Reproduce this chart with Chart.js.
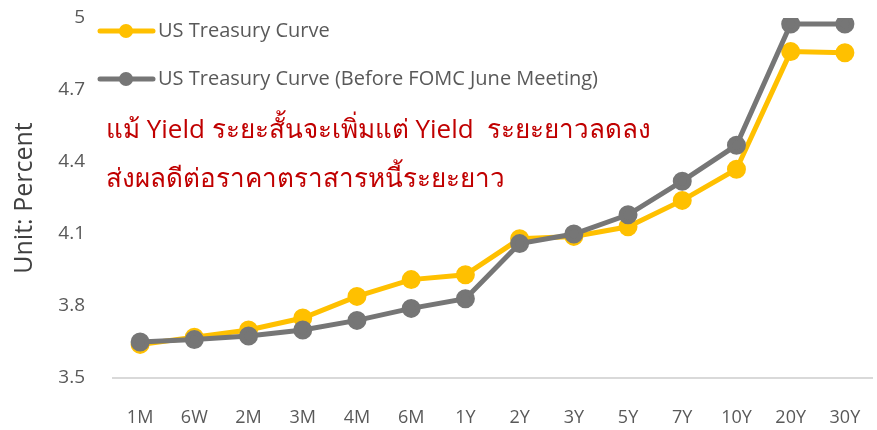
<!DOCTYPE html>
<html>
<head>
<meta charset="utf-8">
<script src="https://cdn.jsdelivr.net/npm/chart.js@4"></script>
<style>
  html, body { margin: 0; padding: 0; background: #fff; }
  #wrap { width: 877px; height: 430px; position: relative; }
</style>
</head>
<body>
<div id="wrap"><canvas id="chart" width="877" height="430"></canvas></div>
<script>
// data
var tenors = ['1M', '6W', '2M', '3M', '4M', '6M', '1Y', '2Y', '3Y', '5Y', '7Y', '10Y', '20Y', '30Y'];
var curveNow = [3.64, 3.67, 3.70, 3.75, 3.84, 3.91, 3.93, 4.08, 4.09, 4.13, 4.24, 4.37, 4.86, 4.855];
var curveBefore = [3.65, 3.66, 3.675, 3.70, 3.74, 3.79, 3.83, 4.06, 4.10, 4.18, 4.32, 4.47, 4.975, 4.975];
var seriesNames = ['US Treasury Curve', 'US Treasury Curve (Before FOMC June Meeting)'];
var noteLines = ['แม้ Yield ระยะสั้นจะเพิ่มแต่ Yield  ระยะยาวลดลง', 'ส่งผลดีต่อราคาตราสารหนี้ระยะยาว'];

var YELLOW = '#FFC000';
var GREY = '#767676';
var FONT = "'Open Sans', 'Noto Sans', sans-serif";

// legend + note drawn by hand
var overlay = {
    id: 'overlay',
    afterDraw: function(chart) {
        var c = chart.ctx;
        c.save();
        var rows = [[YELLOW, seriesNames[0], 31], [GREY, seriesNames[1], 79]];
        rows.forEach(function(r) {
            c.strokeStyle = r[0];
            c.lineWidth = 5;
            c.lineCap = 'round';
            c.beginPath();
            c.moveTo(100, r[2]);
            c.lineTo(153, r[2]);
            c.stroke();
            c.fillStyle = r[0];
            c.beginPath();
            c.arc(126, r[2], 7, 0, Math.PI * 2);
            c.fill();
            c.fillStyle = '#595959';
            c.font = '20px ' + FONT;
            c.textBaseline = 'middle';
            c.fillText(r[1], 158, r[2]);
        });
        c.fillStyle = '#C00000';
        c.font = '26px ' + FONT;
        c.textBaseline = 'alphabetic';
        c.fillText(noteLines[0], 106, 138);
        c.fillText(noteLines[1], 106, 187);
        c.restore();
    }
};

var ctx = document.getElementById('chart').getContext('2d');
var chart = new Chart(ctx, {
    type: 'line',
    data: {
        labels: tenors,
        datasets: [{
            label: seriesNames[1],
            data: curveBefore,
            borderColor: GREY,
            backgroundColor: GREY,
            borderWidth: 5,
            pointRadius: 7,
            pointHoverRadius: 7,
            order: 1
        }, {
            label: seriesNames[0],
            data: curveNow,
            borderColor: YELLOW,
            backgroundColor: YELLOW,
            borderWidth: 5,
            pointRadius: 7,
            pointHoverRadius: 7,
            order: 2
        }]
    },
    options: {
        responsive: false,
        animation: false,
        layout: { autoPadding: false, padding: { top: 18, right: 5, left: 0, bottom: 0 } },
        plugins: {
            legend: { display: false },
            tooltip: { enabled: false }
        },
        scales: {
            x: {
                offset: true,
                grid: { display: false, drawTicks: false },
                border: { color: '#D9D9D9', width: 2 },
                ticks: { color: '#595959', font: { family: FONT, size: 18 }, padding: 29 },
                afterFit: function(s) {
                    s.height = 52;
                    s.paddingLeft = 0;
                    s.paddingRight = 0;
                }
            },
            y: {
                min: 3.5,
                max: 5,
                grid: { display: false, drawTicks: false },
                border: { display: false },
                ticks: {
                    stepSize: 0.3, color: '#595959', font: { family: FONT, size: 19 }, padding: 28,
                    callback: function(v) { return +v.toFixed(1) + ''; }
                },
                title: { display: true, text: 'Unit: Percent', color: '#404040', font: { family: FONT, size: 25 }, padding: { top: 10, bottom: 0 } },
                afterFit: function(s) {
                    s.width = 113;
                    s.paddingTop = 0;
                    s.paddingBottom = 0;
                }
            }
        }
    },
    plugins: [overlay]
});
</script>
</body>
</html>
